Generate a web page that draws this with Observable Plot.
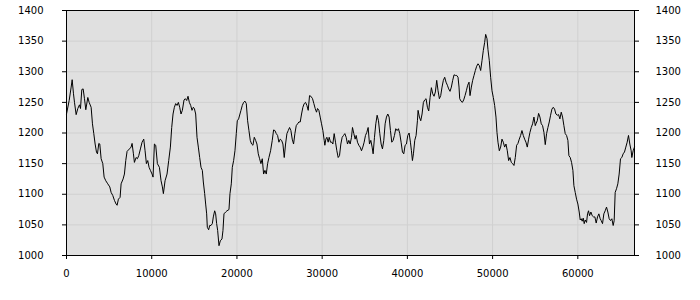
<!DOCTYPE html>
<html>
<head>
<meta charset="utf-8">
<script src="https://cdn.jsdelivr.net/npm/d3@7"></script>
<script src="https://cdn.jsdelivr.net/npm/@observablehq/plot@0.6"></script>
<style>
  html, body { margin: 0; padding: 0; background: #ffffff; }
  #chart { width: 700px; height: 300px; }
</style>
</head>
<body>
<div id="chart"></div>
<script>
const xTicks = [0, 10000, 20000, 30000, 40000, 50000, 60000];
const yTicks = [1000, 1050, 1100, 1150, 1200, 1250, 1300, 1350, 1400];

const steps1 = [0,312,547,664,820,937,1133,1328,1523,1641,1797,1953,2110,2266,2500,2657,2891,3047,3203,3360,3516,3633,3790,3907,4063,4258,4414,4610,4844,5079,5235,5430,5626,5821,5938,6094,6290,6407,6641,6798,6954,7110,7384,7579,7696,7852,7969,8165,8321,8477,8673,8868,9064,9220,9376,9532,9689,9845,10040,10157,10314,10470,10665,10900,11095,11251,11368,11564,11798,11994,12189,12345,12502,12658,12814,12970,13126,13283,13439];
const values1 = [1231,1253,1275,1287,1264,1250,1230,1240,1246,1240,1271,1272,1256,1238,1258,1250,1242,1215,1199,1182,1169,1166,1183,1182,1158,1150,1128,1122,1117,1112,1103,1098,1090,1084,1082,1092,1095,1117,1125,1133,1155,1170,1174,1177,1183,1166,1152,1160,1158,1163,1174,1185,1190,1171,1150,1155,1144,1139,1133,1128,1182,1180,1150,1144,1122,1112,1101,1122,1133,1155,1177,1209,1231,1242,1248,1245,1250,1242,1231];

const steps2 = [13595,13790,13947,14103,14259,14415,14572,14728,14884,15002,15158,15314,15470,15627,15783,15939,16056,16213,16330,16447,16525,16681,16799,16955,17111,17228,17385,17502,17619,17736,17893,18049,18244,18362,18479,18674,18830,19065,19182,19338,19455,19612,19768,19924,20041,20197,20354,20471,20627,20784,20940,21096,21253,21409,21565,21721,21878,22034,22190,22347,22503,22659,22815,22972,23128,23284,23441,23597,23753,23948,24144,24300,24456,24613,24769,24925,25082,25238,25394,25550,25707,25863,26019,26176,26332,26488,26644,26801,26957,27113,27270];
const values2 = [1237,1254,1256,1253,1260,1250,1245,1237,1242,1240,1231,1193,1177,1160,1144,1139,1120,1101,1084,1068,1046,1042,1049,1049,1052,1063,1073,1068,1052,1041,1016,1024,1027,1041,1068,1071,1073,1075,1101,1117,1144,1155,1171,1199,1220,1223,1231,1237,1245,1250,1252,1248,1220,1204,1188,1182,1180,1193,1188,1182,1166,1158,1150,1158,1133,1139,1133,1150,1160,1171,1188,1205,1204,1199,1196,1185,1190,1188,1182,1160,1182,1199,1204,1209,1204,1190,1182,1199,1212,1215,1218];

const steps3 = [27425,27581,27738,27894,28050,28206,28363,28519,28675,28871,29027,29183,29339,29457,29613,29769,29925,30082,30238,30316,30433,30551,30707,30824,30980,31137,31254,31410,31566,31723,31879,32035,32192,32348,32504,32660,32817,32973,33129,33286,33442,33559,33715,33872,33989,34145,34301,34458,34614,34770,34926,35083,35239,35395,35552,35708,35864,35981,36138,36294,36450,36607,36763,36919,37075,37232,37388,37544,37701,37857,38013,38169,38326,38482,38638,38795,38951,39107,39263,39420,39576,39732,39889,40045,40201,40357,40475,40592,40709,40865,41022,41178];
const values3 = [1218,1231,1242,1248,1250,1245,1237,1261,1260,1256,1248,1240,1234,1240,1237,1226,1215,1204,1188,1180,1190,1193,1185,1193,1185,1185,1182,1199,1185,1171,1160,1163,1182,1193,1196,1199,1193,1182,1188,1182,1193,1209,1199,1190,1196,1185,1180,1177,1171,1177,1185,1196,1201,1209,1182,1188,1177,1166,1193,1215,1229,1220,1199,1182,1174,1188,1215,1226,1231,1226,1204,1185,1188,1196,1207,1204,1207,1199,1185,1169,1166,1180,1182,1196,1200,1185,1171,1155,1166,1188,1196,1220];

const steps4 = [41254,41410,41567,41723,41879,42035,42192,42348,42504,42661,42817,42973,43129,43286,43442,43598,43754,43911,44067,44223,44380,44536,44692,44848,45005,45161,45317,45474,45630,45786,45942,46060,46138,46294,46450,46607,46763,46919,47075,47232,47349,47505,47661,47818,47974,48130,48287,48443,48599,48755,48912,49068,49185,49341,49459,49615,49771,49928,50084,50240,50396,50513,50631,50787,50943,51100,51256,51412,51568,51725,51881,52037,52194,52350,52506,52662,52819,52975,53131,53288,53444,53600,53756,53913,54069,54225,54382,54538,54694,54850,55007];
const values4 = [1237,1226,1220,1231,1250,1254,1256,1242,1236,1258,1274,1264,1260,1267,1286,1269,1256,1261,1275,1286,1291,1283,1278,1272,1268,1275,1286,1295,1294,1294,1291,1275,1256,1252,1250,1254,1261,1269,1278,1283,1261,1275,1286,1294,1302,1309,1313,1310,1302,1318,1335,1348,1361,1354,1336,1318,1291,1269,1258,1245,1226,1201,1185,1171,1177,1190,1185,1177,1182,1171,1155,1160,1152,1150,1147,1160,1180,1183,1190,1196,1204,1196,1190,1185,1177,1190,1201,1209,1215,1226,1212];

const steps5 = [55084,55240,55397,55553,55709,55865,56022,56178,56334,56491,56647,56803,56959,57116,57272,57428,57584,57741,57897,58053,58210,58366,58522,58678,58835,58952,59108,59264,59421,59538,59694,59851,60007,60163,60280,60398,60515,60632,60749,60866,61023,61140,61257,61374,61531,61687,61843,61999,62156,62312,62468,62624,62742,62898,63054,63210,63367,63523,63679,63836,63992,64148,64265,64383,64539,64695,64851,65008,65164,65320,65476,65633,65789,65945,66101,66258,66336,66492,66648];
const values5 = [1215,1220,1232,1226,1215,1212,1201,1181,1199,1209,1218,1229,1239,1242,1239,1231,1229,1230,1223,1234,1226,1212,1199,1196,1188,1163,1160,1152,1139,1114,1103,1092,1084,1071,1058,1060,1056,1061,1052,1058,1054,1068,1073,1065,1071,1065,1063,1063,1053,1063,1068,1060,1057,1052,1068,1073,1079,1071,1060,1057,1060,1049,1057,1103,1109,1117,1133,1158,1160,1166,1169,1177,1185,1196,1182,1171,1160,1171,1177];

const xMax = 66650;

const segments = [[steps1, values1], [steps2, values2], [steps3, values3], [steps4, values4], [steps5, values5]];
const data = [];
for (const [s, v] of segments) {
  const n = Math.min(s.length, v.length);
  for (let i = 0; i < n; i++) data.push({x: s[i], y: v[i]});
}

const fmt = d3.format("d");

const chart = Plot.plot({
  width: 700,
  height: 300,
  marginLeft: 66,
  marginRight: 66,
  marginTop: 10,
  marginBottom: 45,
  style: {fontFamily: "'DejaVu Sans', sans-serif", fontSize: "10px", color: "#000", background: "#fff"},
  x: {domain: [0, xMax], axis: null},
  y: {domain: [1000, 1400], axis: null},
  marks: [
    Plot.frame({fill: "#e0e0e0", stroke: null}),
    Plot.gridX(xTicks, {stroke: "#d0d0d0", strokeOpacity: 1}),
    Plot.gridY(yTicks, {stroke: "#d0d0d0", strokeOpacity: 1}),
    Plot.line(data, {x: "x", y: "y", stroke: "#000", strokeWidth: 1}),
    Plot.frame({stroke: "#000", strokeWidth: 1}),
    Plot.axisY(yTicks, {anchor: "left", label: null, tickSize: 4, tickPadding: 19, tickFormat: fmt, stroke: "#000", fill: "#000"}),
    Plot.axisY(yTicks, {anchor: "right", label: null, tickSize: 4, tickPadding: 17, tickFormat: fmt, stroke: "#000", fill: "#000"}),
    Plot.axisX(xTicks, {anchor: "bottom", label: null, tickSize: 4, tickPadding: 10, tickFormat: fmt, stroke: "#000", fill: "#000"})
  ]
});
document.getElementById("chart").appendChild(chart);
</script>
</body>
</html>
